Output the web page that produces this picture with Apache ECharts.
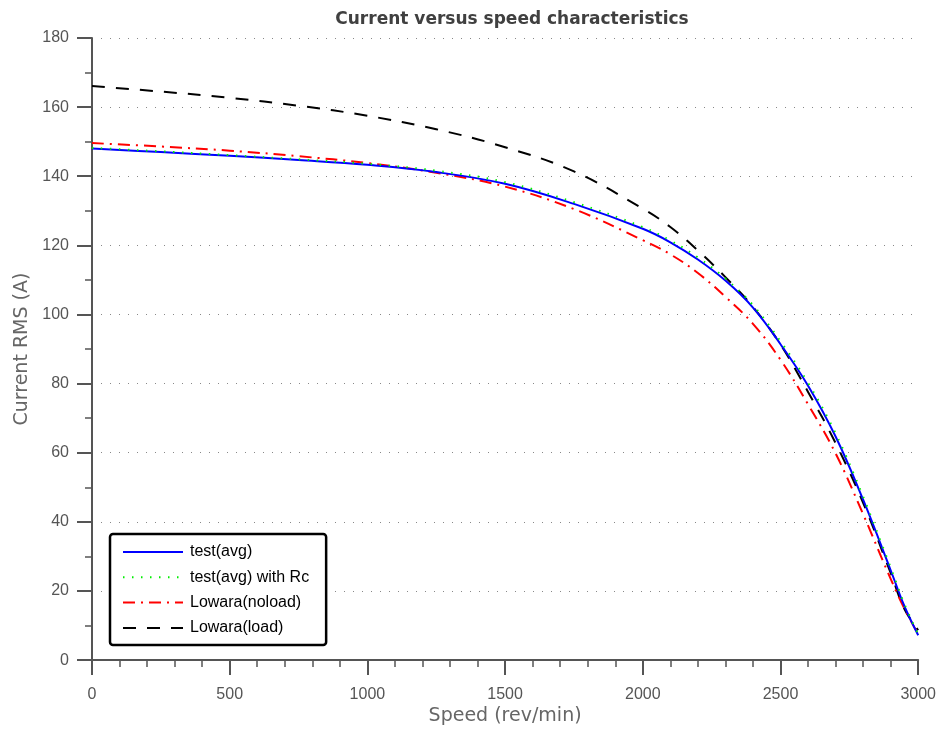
<!DOCTYPE html>
<html>
<head>
<meta charset="utf-8">
<script src="https://cdn.jsdelivr.net/npm/echarts@6/dist/echarts.min.js"></script>
<style>
html,body{margin:0;padding:0;background:#fff;}
#chart{width:939px;height:731px;}
</style>
</head>
<body>
<div id="chart"></div>
<script>
const speeds = [0, 250, 500, 750, 1000, 1250, 1500, 1750, 2000, 2100, 2200, 2300, 2400, 2500, 2600, 2700, 2800, 2900, 2950, 3000];
const testAvg = [148.0, 147.0, 145.9, 144.7, 143.3, 141.2, 137.8, 132.0, 124.8, 120.9, 115.9, 109.8, 102.0, 91.4, 79.4, 64.7, 46.4, 26.0, 15.6, 7.2];
const testAvgRc = [148.2, 147.2, 146.1, 144.9, 143.6, 141.6, 138.3, 132.5, 125.3, 121.4, 116.5, 110.4, 102.7, 92.2, 80.2, 65.6, 47.3, 26.8, 16.2, 7.5];
const lowaraNoload = [149.6, 148.6, 147.4, 145.8, 143.8, 141.0, 137.0, 130.5, 121.5, 117.4, 112.0, 105.1, 97.3, 86.9, 74.0, 59.8, 42.2, 23.5, 14.9, 7.5];
const lowaraLoad = [166.1, 164.5, 162.7, 160.4, 157.5, 153.6, 148.4, 141.4, 130.6, 125.3, 118.5, 110.8, 102.2, 91.3, 77.6, 62.8, 45.5, 25.2, 14.8, 8.7];
const seriesNames = ['test(avg)', 'test(avg) with Rc', 'Lowara(noload)', 'Lowara(load)'];
const yTicks = [0, 20, 40, 60, 80, 100, 120, 140, 160, 180];
const xTicks = [0, 500, 1000, 1500, 2000, 2500, 3000];

function pairs(vals){ return speeds.map((s,i)=>[s, vals[i]]); }

const chart = echarts.init(document.getElementById('chart'), null, {renderer:'canvas'});
const axisColor = '#555';
const option = {
  backgroundColor: '#fff',
  animation: false,
  title: {
    text: 'Current versus speed characteristics',
    left: 507, top: 6, textAlign: 'center',
    textStyle: {fontFamily: 'DejaVu Sans', fontSize: 17, fontWeight: 'bold', color: '#404040'}
  },
  grid: {left: 92, right: 20, top: 38, bottom: 70, containLabel: false},
  legend: {
    orient: 'vertical', left: 110, top: 534,
    padding: [10, 17, 9, 12],
    itemWidth: 60, itemHeight: 14, itemGap: 9.3,
    borderColor: '#000', borderWidth: 2.5, borderRadius: 3,
    backgroundColor: '#fff',
    itemStyle: {opacity: 0},
    textStyle: {fontFamily: 'Liberation Sans', fontSize: 16, color: '#000', padding: [0,0,0,2]},
    data: seriesNames
  },
  xAxis: {
    type: 'value', min: 0, max: 3000, interval: 500,
    name: 'Speed (rev/min)', nameLocation: 'middle', nameGap: 45,
    nameTextStyle: {fontFamily: 'DejaVu Sans', fontSize: 19, color: '#666'},
    axisLine: {show: true, onZero: false, lineStyle: {color: axisColor, width: 2}},
    axisTick: {show: true, inside: false, length: 15, lineStyle: {color: axisColor, width: 2}},
    minorTick: {show: true, splitNumber: 5, length: 7, lineStyle: {color: axisColor, width: 1.5}},
    axisLabel: {margin: 26, fontFamily: 'Liberation Sans', fontSize: 16, color: '#555',
      formatter: v => xTicks.includes(v) ? String(v) : ''},
    splitLine: {show: false}
  },
  yAxis: {
    type: 'value', min: 0, max: 180, interval: 20,
    name: 'Current RMS (A)', nameLocation: 'middle', nameGap: 59,
    nameTextStyle: {fontFamily: 'DejaVu Sans', fontSize: 19, color: '#666'},
    axisLine: {show: true, onZero: false, lineStyle: {color: axisColor, width: 2}},
    axisTick: {show: true, inside: false, length: 15, lineStyle: {color: axisColor, width: 2}},
    minorTick: {show: true, splitNumber: 2, length: 7, lineStyle: {color: axisColor, width: 1.5}},
    axisLabel: {margin: 23, fontFamily: 'Liberation Sans', fontSize: 16, color: '#555',
      formatter: v => yTicks.includes(v) ? String(v) : ''},
    splitLine: {show: true, lineStyle: {color: '#888', width: 1, type: [1, 8]}}
  },
  series: [
    {name: seriesNames[0], type: 'line', data: pairs(testAvg), symbol: 'none', smooth: 0.4, z: 4,
      lineStyle: {color: '#0000ff', width: 2, type: 'solid'}, itemStyle: {color: '#0000ff'}},
    {name: seriesNames[1], type: 'line', data: pairs(testAvgRc), symbol: 'none', smooth: 0.4, z: 5,
      lineStyle: {color: '#00ee00', width: 2, type: [1.5, 7.5]}, itemStyle: {color: '#00ee00'}},
    {name: seriesNames[2], type: 'line', data: pairs(lowaraNoload), symbol: 'none', smooth: 0.4, z: 3,
      lineStyle: {color: '#ff0000', width: 2, type: [12, 6, 2, 6]}, itemStyle: {color: '#ff0000'}},
    {name: seriesNames[3], type: 'line', data: pairs(lowaraLoad), symbol: 'none', smooth: 0.4, z: 2,
      lineStyle: {color: '#000000', width: 2, type: [13, 11]}, itemStyle: {color: '#000000'}}
  ]
};
chart.setOption(option);
</script>
</body>
</html>
